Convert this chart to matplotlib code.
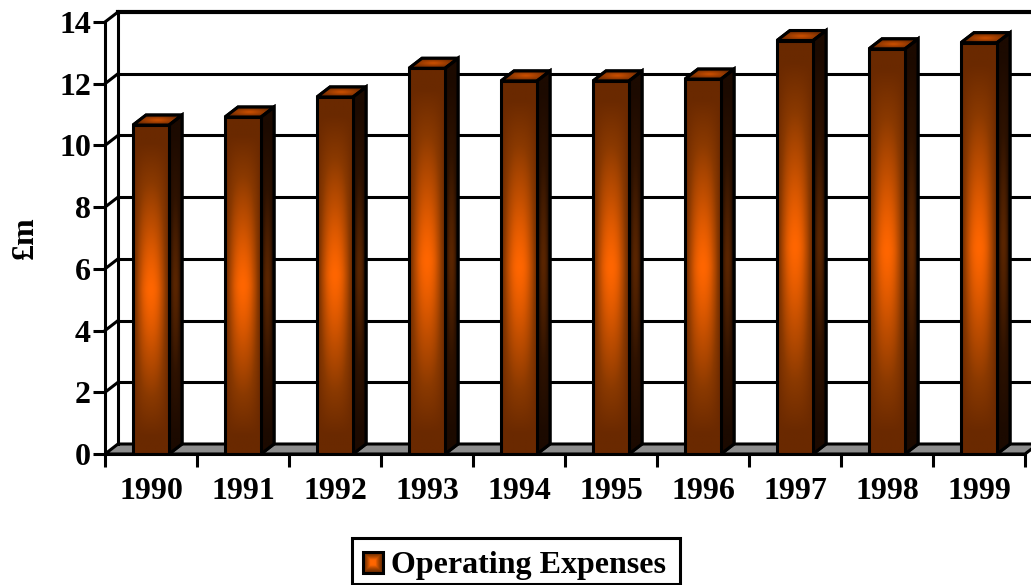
import numpy as np
import matplotlib
matplotlib.use("Agg")
import matplotlib.pyplot as plt
from matplotlib.patches import Polygon, Rectangle
from matplotlib.colors import LinearSegmentedColormap

years = ["1990", "1991", "1992", "1993", "1994", "1995", "1996", "1997", "1998", "1999"]
expenses = [10.66, 10.92, 11.57, 12.5, 12.09, 12.09, 12.15, 13.4, 13.13, 13.33]
yticks = [0, 2, 4, 6, 8, 10, 12, 14]
series_name = "Operating Expenses"

W, H = 1031, 585
DX, DY = 13, 10  # depth of the fake 3d, in px
BAR_W = 36 / 92

plt.rcParams["font.family"] = ["Liberation Serif"]
plt.rcParams["font.weight"] = "bold"

fig = plt.figure(figsize=(W / 100, H / 100), dpi=100)
# axes box is the front plane of the chart
ax = fig.add_axes([105 / W, 1 - 454 / H, 920 / W, 432 / H])
ax.set_xlim(0, len(years))
ax.set_ylim(0, 14)
ax.patch.set_visible(False)
for s in ax.spines.values():
    s.set_visible(False)

px_x = len(years) / 920
px_y = 14 / 432
dx, dy = DX * px_x, DY * px_y
lw = 2.2

front_cmap = LinearSegmentedColormap.from_list("front", ["#6a2900", "#8a3900", "#c04e00", "#ff6600"])
side_cmap = LinearSegmentedColormap.from_list("side", ["#1c0a00", "#2e1200", "#5a2500"])
top_cmap = LinearSegmentedColormap.from_list("top", ["#6e2a00", "#c84e00"])


def path_gradient(ny=200, nx=40):
    # bright in the middle, falling off toward top/bottom and the side edges
    yy, xx = np.mgrid[-1:1:ny * 1j, -1:1:nx * 1j]
    return np.clip((1 - np.abs(yy) ** 1.3 * 1.15) * (1 - np.abs(xx) ** 2.2), 0, 1)


# floor
ax.add_patch(Polygon([(0, 0), (dx, dy), (len(years) + dx, dy), (len(years), 0)],
                     closed=True, fc="#8c8c8c", ec="black", lw=lw, zorder=1, clip_on=False))
# back wall and gridlines
ax.plot([dx, dx], [dy, 14 + dy], color="black", lw=lw, zorder=1, clip_on=False)
ax.plot([0, dx], [14, 14 + dy], color="black", lw=lw, zorder=1, clip_on=False)
ax.plot([dx, len(years) + dx], [14 + dy, 14 + dy], color="black", lw=3, zorder=1, clip_on=False)
for t in yticks[1:-1]:
    ax.plot([0, dx], [t, t + dy], color="black", lw=lw, zorder=1, clip_on=False)
    ax.plot([dx, len(years) + dx], [t + dy, t + dy], color="black", lw=lw, zorder=1, clip_on=False)

# front left axis and ticks
ax.plot([0, 0], [0, 14], color="black", lw=lw, zorder=1, clip_on=False)
ax.plot([0, len(years)], [0, 0], color="black", lw=lw, zorder=5, clip_on=False)
ax.set_xticks(range(len(years) + 1))
ax.set_xticklabels([])
ax.set_yticks(yticks)
ax.set_yticklabels([str(t) for t in yticks], fontsize=23)
ax.tick_params(axis="both", length=9, width=lw, color="black")
ax.tick_params(axis="y", pad=1)
for i, y in enumerate(years):
    ax.text(i + 0.5, -1.2, y, ha="center", va="center", fontsize=23, fontweight="bold")

ax.text(-80 * px_x, 7, "£m", rotation=90, ha="center", va="center", fontsize=23, fontweight="bold")

for i, v in enumerate(expenses):
    x0 = i + 0.5 - BAR_W / 2
    x1 = i + 0.5 + BAR_W / 2
    front = Polygon([(x0, 0), (x0, v), (x1, v), (x1, 0)], closed=True, fc="none", ec="black", lw=lw, zorder=4)
    side = Polygon([(x1, 0), (x1 + dx, dy), (x1 + dx, v + dy), (x1, v)], closed=True, fc="#2a1000", ec="black", lw=lw, zorder=3)
    top = Polygon([(x0, v), (x0 + dx, v + dy), (x1 + dx, v + dy), (x1, v)], closed=True, fc="#a04400", ec="black", lw=lw, zorder=3)
    ax.add_patch(side)
    ax.add_patch(top)
    ax.imshow(path_gradient(), extent=(x0, x1, 0, v), cmap=front_cmap, vmin=0, vmax=1,
              aspect="auto", zorder=3.5, interpolation="bilinear")
    im2 = ax.imshow(path_gradient(), extent=(x1, x1 + dx, 0, v + dy), cmap=side_cmap, vmin=0, vmax=1,
                    aspect="auto", zorder=3.1, interpolation="bilinear")
    im2.set_clip_path(side)
    yy, xx = np.mgrid[-1:1:20j, -1:1:40j]
    im3 = ax.imshow(np.clip(1 - np.hypot(xx, yy), 0, 1), extent=(x0, x1 + dx, v, v + dy), cmap=top_cmap,
                    aspect="auto", zorder=3.1, interpolation="bilinear")
    im3.set_clip_path(top)
    ax.add_patch(Polygon(top.get_xy(), closed=True, fc="none", ec="black", lw=lw, zorder=3.3))
    ax.add_patch(Polygon(side.get_xy(), closed=True, fc="none", ec="black", lw=lw, zorder=3.3))
    ax.add_patch(front)

ax.set_xlim(0, len(years))
ax.set_ylim(0, 14)

# legend drawn by hand so the swatch can carry the gradient
lg = fig.add_axes([0, 0, 1, 1], facecolor="none")
lg.axis("off")
lg.add_patch(Rectangle((352, 538), 328, 46, fc="white", ec="black", lw=lw))
yy, xx = np.mgrid[-1:1:20j, -1:1:20j]
lg.imshow(np.clip(1.25 - np.maximum(np.abs(xx), np.abs(yy)), 0, 1), extent=(363, 383, 573, 552), cmap=front_cmap,
          aspect="auto", zorder=3, interpolation="bilinear")
lg.add_patch(Rectangle((363, 552), 20, 21, fc="none", ec="black", lw=lw, zorder=4))
lg.text(391, 565, series_name, ha="left", va="center", fontsize=23, fontweight="bold")
lg.set_xlim(0, W)
lg.set_ylim(H, 0)

fig.savefig("out.png", dpi=100)
